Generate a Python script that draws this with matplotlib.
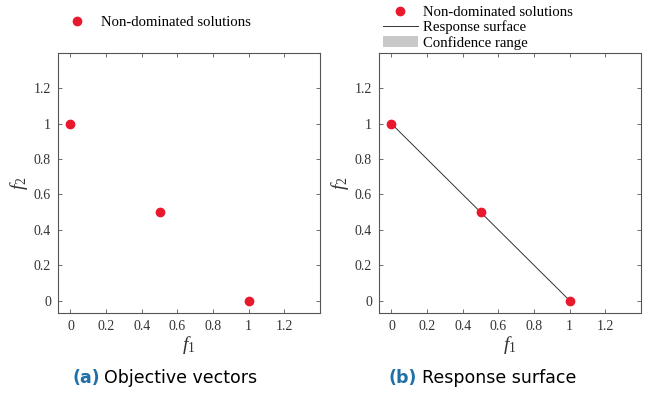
import matplotlib.pyplot as plt
from matplotlib.lines import Line2D
from matplotlib.patches import Patch

plt.rcParams['mathtext.fontset'] = 'custom'
plt.rcParams['mathtext.it'] = 'Liberation Serif:italic'
plt.rcParams['mathtext.rm'] = 'Liberation Serif'

# Non-dominated solutions
f1 = [0.0, 0.5, 1.0]
f2 = [1.0, 0.5, 0.0]
ticks = [0, 0.2, 0.4, 0.6, 0.8, 1, 1.2]
tick_labels = ['0', '0.2', '0.4', '0.6', '0.8', '1', '1.2']
captions = [('(a)', 'Objective vectors'), ('(b)', 'Response surface')]

red = '#e8192c'
grey = '#555555'
serif = 'Liberation Serif'

fig = plt.figure(figsize=(6.51, 3.98), dpi=100)
ax1 = fig.add_axes([58/651, 85/398, 262/651, 260/398])
ax2 = fig.add_axes([379/651, 85/398, 262/651, 260/398])

for ax in (ax1, ax2):
    ax.set_xlim(-0.07, 1.4)
    ax.set_ylim(-0.07, 1.4)
    ax.set_xticks(ticks)
    ax.set_yticks(ticks)
    ax.set_xticklabels(tick_labels, family=serif, fontsize=10, color='#333333')
    ax.set_yticklabels(tick_labels, family=serif, fontsize=10, color='#333333')
    ax.tick_params(direction='in', length=3, width=0.6, color=grey,
                   top=True, right=True, pad=5)
    for s in ax.spines.values():
        s.set_color(grey)
        s.set_linewidth(0.8)
    ax.set_xlabel('$f_1$', fontsize=14, color='#333333', labelpad=1)
    ax.set_ylabel('$f_2$', fontsize=14, color='#333333', labelpad=3)

# (a) objective vectors
ax1.plot(f1, f2, 'o', color=red, markersize=6, zorder=3)
h_pts = Line2D([], [], marker='o', linestyle='none', color=red, markersize=6)
ax1.legend([h_pts], ['Non-dominated solutions'], loc='lower left',
           bbox_to_anchor=(0.005, 1.07), frameon=False, handlelength=1.6,
           prop={'family': serif, 'size': 10.6}, borderaxespad=0, handletextpad=0.85)

# (b) response surface
ax2.plot(f1, f2, '-', color='#333333', linewidth=0.7, zorder=2)
ax2.plot(f1, f2, 'o', color=red, markersize=6, zorder=3)
h_line = Line2D([], [], color='#333333', linewidth=0.7)
h_band = Patch(facecolor='#c8c8c8', edgecolor='none')
ax2.legend([h_pts, h_line, h_band],
           ['Non-dominated solutions', 'Response surface', 'Confidence range'],
           loc='lower left', bbox_to_anchor=(-0.008, 0.99), frameon=False,
           handlelength=2.4, prop={'family': serif, 'size': 10.6},
           borderaxespad=0, handletextpad=0.3, labelspacing=0.1)

# captions
cap_x = [(73, 104), (389, 422)]
for (lab, txt), (xa, xb) in zip(captions, cap_x):
    fig.text(xa/651, 20/398, lab, ha='left', va='center', fontsize=12.5,
             fontweight='bold', color='#1f6fa8', family='DejaVu Sans')
    fig.text(xb/651, 20/398, txt, ha='left', va='center', fontsize=12.5,
             color='black', family='DejaVu Sans')

fig.savefig('out.png', dpi=100)
